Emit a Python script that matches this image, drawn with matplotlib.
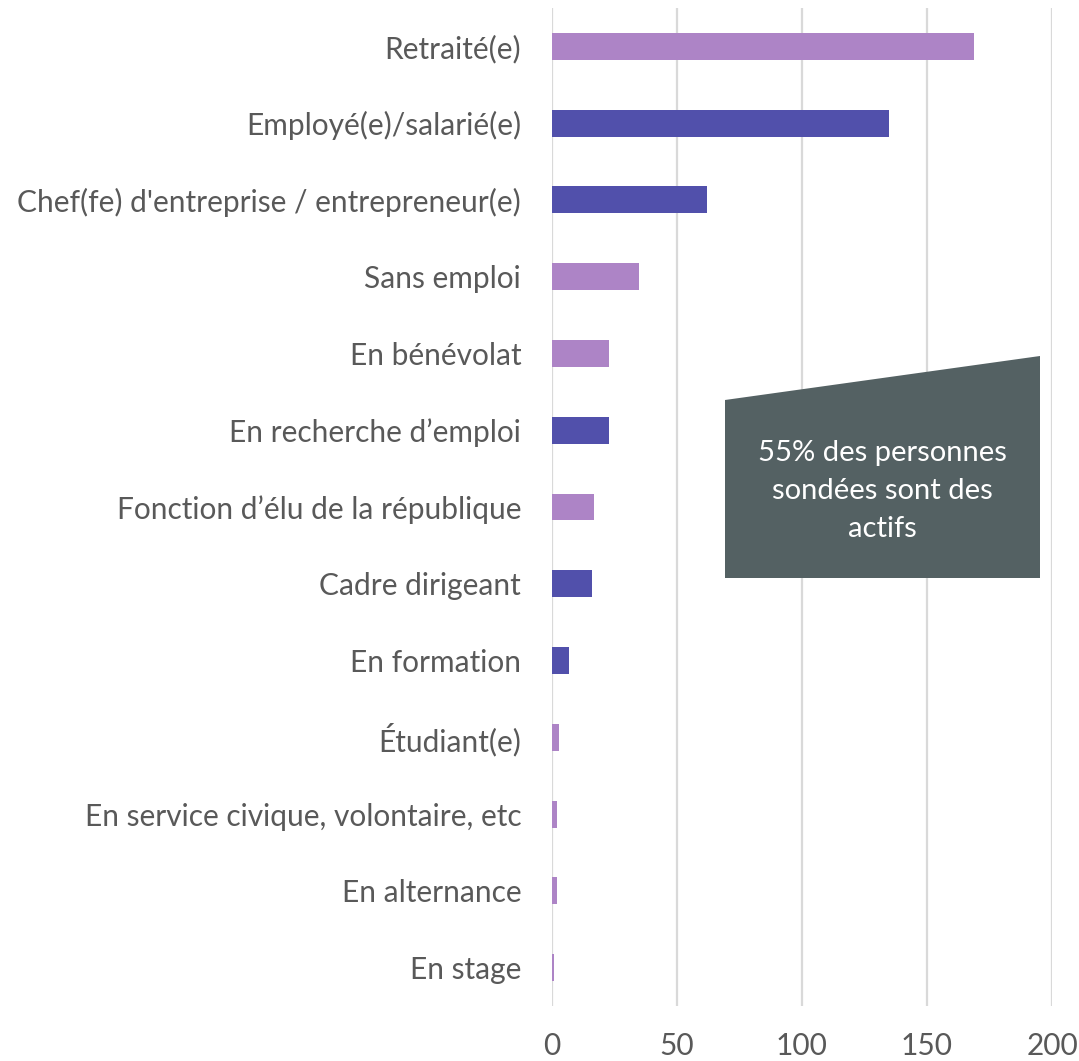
import matplotlib.pyplot as plt
from matplotlib.patches import Polygon

plt.rcParams['font.family'] = ['Lato', 'DejaVu Sans']

# données
categories = ["Retraité(e)", "Employé(e)/salarié(e)",
              "Chef(fe) d'entreprise / entrepreneur(e)", "Sans emploi",
              "En bénévolat", "En recherche d’emploi",
              "Fonction d’élu de la république", "Cadre dirigeant",
              "En formation", "Étudiant(e)",
              "En service civique, volontaire, etc", "En alternance",
              "En stage"]
valeurs = [169, 135, 62, 35, 23, 23, 17, 16, 7, 3, 2, 2, 1]
actif = [False, True, True, False, False, True, False, True, True,
         False, False, False, False]
xticks = [0, 50, 100, 150, 200]

clair = '#AD84C6'
fonce = '#5150AB'
gris_txt = '#595959'

fig = plt.figure(figsize=(10.79, 10.61), dpi=100)
ax = fig.add_axes([0.5113, 0.0518, 0.4637, 0.9407])

couleurs = [fonce if a else clair for a in actif]
ypos = list(range(len(categories)))
ax.barh(ypos, valeurs, height=0.35, color=couleurs, zorder=3)
ax.set_yticks(ypos)
ax.set_yticklabels(categories)
ax.set_ylim(len(categories) - 0.5, -0.5)
ax.set_xlim(0, 200)
ax.set_xticks(xticks)
ax.xaxis.grid(True, color='#D9D9D9', linewidth=1.6, zorder=0)
for s in ax.spines.values():
    s.set_visible(False)
ax.tick_params(axis='both', length=0, labelsize=21.5, colors=gris_txt)
ax.tick_params(axis='x', pad=19)
ax.tick_params(axis='y', pad=22)

# encadré
W, H = 1079, 1061
pts = [(725, 400), (1040, 356), (1040, 578), (725, 578)]
poly = Polygon([(x / W, 1 - y / H) for x, y in pts], closed=True,
               transform=fig.transFigure, facecolor='#546163',
               edgecolor='none', zorder=5)
fig.patches.append(poly)
fig.text(882 / W, 1 - 491 / H,
         "55% des personnes\nsondées sont des\nactifs",
         ha='center', va='center', color='white', fontsize=21,
         linespacing=1.55, zorder=6)

plt.savefig('out.png', dpi=100)
